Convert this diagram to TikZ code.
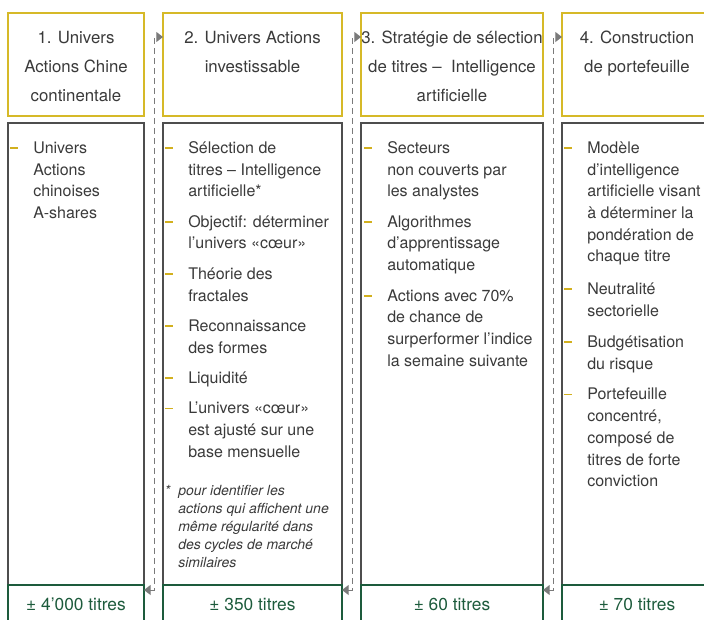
\documentclass[tikz,border=0pt]{standalone}
\usepackage{fontspec}
\setmainfont{TeX Gyre Heros}
\usetikzlibrary{arrows.meta}
\definecolor{gold}{HTML}{D6B928}
\definecolor{dashgold}{HTML}{D2B01E}
\definecolor{boxgray}{HTML}{4E4E4E}
\definecolor{dgreen}{HTML}{1D5B3C}
\definecolor{txtgray}{HTML}{3A3A3A}
\definecolor{arrowgray}{HTML}{7A7A7A}
\newcommand{\bul}{\leavevmode\strut\llap{\textcolor{dashgold}{\rule[0.28em]{6pt}{1.4pt}}\hspace{11.25pt}}}
\begin{document}
\begin{tikzpicture}[x=0.75pt,y=-0.75pt,
  hbox/.style={draw=gold, line width=0.9pt, inner sep=0, outer sep=0, anchor=north west, minimum height=77.25pt},
  bbox/.style={draw=boxgray, line width=0.8pt, inner sep=0, outer sep=0, anchor=north west, minimum height=346.5pt},
  gbox/.style={draw=dgreen, line width=0.9pt, inner sep=0, outer sep=0, anchor=north west, minimum height=45pt},
  hdrtext/.style={anchor=north, align=center, inner sep=0, font=\fontsize{12.6}{22}\selectfont, text=txtgray},
  body/.style={anchor=north west, align=left, inner sep=0, font=\fontsize{12}{16.3}\selectfont, text=txtgray},
  fn/.style={anchor=north west, align=left, inner sep=0, font=\itshape\fontsize{10.5}{13.5}\selectfont, text=txtgray},
  count/.style={anchor=base, inner sep=0, font=\fontsize{13}{15}\selectfont, text=dgreen},
  conn/.style={draw=arrowgray, line width=0.75pt, dash pattern=on 4.5pt off 3pt,
    {Triangle[length=5pt,width=7.5pt]}-{Triangle[length=5pt,width=7.5pt]}}
]
\useasboundingbox (0,0) rectangle (704,619);
\clip (0,0) rectangle (704,619);

% header boxes
\node[hbox, minimum width=102pt] (h1) at (8,13) {};
\node[hbox, minimum width=134.25pt] (h2) at (163,13) {};
\node[hbox, minimum width=136.5pt] (h3) at (361,13) {};
\node[hbox, minimum width=112.5pt] (h4) at (562,13) {};

% body boxes
\node[bbox, minimum width=102pt] (b1) at (8,123) {};
\node[bbox, minimum width=134.25pt] (b2) at (163,123) {};
\node[bbox, minimum width=136.5pt] (b3) at (361,123) {};
\node[bbox, minimum width=112.5pt] (b4) at (562,123) {};

% count boxes
\node[gbox, minimum width=102pt] (g1) at (8,585) {};
\node[gbox, minimum width=134.25pt] (g2) at (163,585) {};
\node[gbox, minimum width=136.5pt] (g3) at (361,585) {};
\node[gbox, minimum width=112.5pt] (g4) at (562,585) {};

% header texts
\node[hdrtext] (h1t) at (76,22.5) {\strut 1. Univers\\Actions Chine\\continentale};
\node[hdrtext] (h2t) at (252.5,22.5) {\strut 2. Univers Actions\\investissable};
\node[hdrtext] (h3t) at (452,22.5) {\strut 3. Stratégie de sélection\\de titres –\ \ Intelligence\\artificielle};
\node[hdrtext] (h4t) at (637,22.5) {\strut 4. Construction\\de portefeuille};

% body texts
\node[body] (b1t) at (33,137.8) {\bul Univers\\Actions\\chinoises\\A-shares};
\node[body] (b2t) at (188,137.8) {\bul Sélection de\\titres – Intelligence\\artificielle*\\[6.5pt]
  \bul Objectif: déterminer\\l’univers «cœur»\\[6.5pt]
  \bul Théorie des\\fractales\\[6.5pt]
  \bul Reconnaissance\\des formes\\[6.5pt]
  \bul Liquidité\\[6.5pt]
  \bul L’univers «cœur»\\est ajusté sur une\\base mensuelle};
\node[fn] (fn2) at (178,482.4) {\strut\llap{*\hspace{6pt}}pour identifier les\\actions qui affichent une\\même régularité dans\\des cycles de marché\\similaires};
\node[body] (b3t) at (387,137.8) {\bul Secteurs\\non couverts par\\les analystes\\[6.5pt]
  \bul Algorithmes\\d’apprentissage\\automatique\\[6.5pt]
  \bul Actions avec 70\%\\de chance de\\surperformer l’indice\\la semaine suivante};
\node[body] (b4t) at (587,137.8) {\bul Modèle\\d’intelligence\\artificielle visant\\à déterminer la\\pondération de\\chaque titre\\[8pt]
  \bul Neutralité\\sectorielle\\[7.5pt]
  \bul Budgétisation\\du risque\\[6.5pt]
  \bul Portefeuille\\concentré,\\composé de\\titres de forte\\conviction};

% counts
\node[count] (c1) at (76,610) {± 4’000 titres};
\node[count] (c2) at (252.5,610) {± 350 titres};
\node[count] (c3) at (452,610) {± 60 titres};
\node[count] (c4) at (637,610) {± 70 titres};

% connectors
\draw[conn] ([yshift=-3.75pt]g1.north east) -- ++(10,0) |- ([yshift=-18pt]h2.north west);
\draw[conn] ([yshift=-3.75pt]g2.north east) -- ++(10,0) |- ([yshift=-18pt]h3.north west);
\draw[conn] ([yshift=-3.75pt]g3.north east) -- ++(10,0) |- ([yshift=-18pt]h4.north west);
\end{tikzpicture}
\end{document}
